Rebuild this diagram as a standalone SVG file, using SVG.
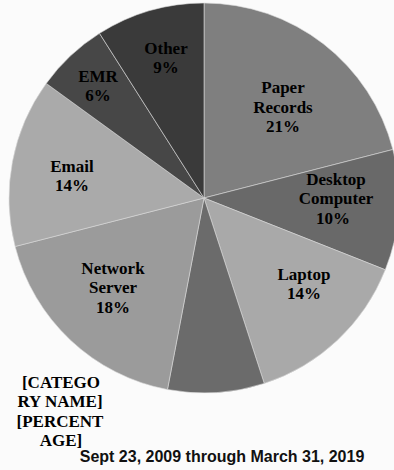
<svg xmlns="http://www.w3.org/2000/svg" width="394" height="470" viewBox="0 0 394 470">
<style>
.s{stroke:#d8d8d8;stroke-width:0.6}
.l{font-weight:bold;font-size:17px;fill:#000;text-anchor:middle}
.t{font-weight:bold;font-size:16px;fill:#111;text-anchor:middle}
</style>
<rect width="394" height="470" fill="#fbfbfb"/>
<g id="slices">
<g id="paper-records"><path class="s" fill="#7f7f7f" d="M204,198 L204,3 A195,195 0 0 1 392.87,149.51 Z"/></g>
<g id="desktop-computer"><path class="s" fill="#696969" d="M204,198 L392.87,149.51 A195,195 0 0 1 385.31,269.78 Z"/></g>
<g id="laptop"><path class="s" fill="#a9a9a9" d="M204,198 L385.31,269.78 A195,195 0 0 1 264.26,383.46 Z"/></g>
<g id="unnamed"><path class="s" fill="#6b6b6b" d="M204,198 L264.26,383.46 A195,195 0 0 1 167.46,389.55 Z"/></g>
<g id="network-server"><path class="s" fill="#9b9b9b" d="M204,198 L167.46,389.55 A195,195 0 0 1 15.13,246.49 Z"/></g>
<g id="email"><path class="s" fill="#aaaaaa" d="M204,198 L15.13,246.49 A195,195 0 0 1 46.24,83.38 Z"/></g>
<g id="emr"><path class="s" fill="#474747" d="M204,198 L46.24,83.38 A195,195 0 0 1 99.51,33.36 Z"/></g>
<g id="other"><path class="s" fill="#3a3a3a" d="M204,198 L99.51,33.36 A195,195 0 0 1 204,3 Z"/></g>
</g>
<g id="labels" font-family="Liberation Serif">
<text class="l"><tspan x="283" y="93">Paper</tspan><tspan x="283" y="113">Records</tspan><tspan x="283" y="132">21%</tspan></text>
<text class="l"><tspan x="336" y="185">Desktop</tspan><tspan x="336" y="204">Computer</tspan><tspan x="333" y="224">10%</tspan></text>
<text class="l"><tspan x="304" y="280">Laptop</tspan><tspan x="304" y="299">14%</tspan></text>
<text class="l"><tspan x="113" y="274">Network</tspan><tspan x="113" y="293">Server</tspan><tspan x="113" y="313">18%</tspan></text>
<text class="l"><tspan x="72" y="172">Email</tspan><tspan x="72" y="191">14%</tspan></text>
<text class="l"><tspan x="98" y="82">EMR</tspan><tspan x="98" y="101">6%</tspan></text>
<text class="l"><tspan x="166" y="54">Other</tspan><tspan x="166" y="73">9%</tspan></text>
<text class="l"><tspan x="61" y="388">[CATEGO</tspan><tspan x="60" y="407">RY NAME]</tspan><tspan x="60" y="427">[PERCENT</tspan><tspan x="61" y="446">AGE]</tspan></text>
</g>
<text class="t" font-family="Liberation Sans" x="222" y="462">Sept 23, 2009 through March 31, 2019</text>
</svg>
